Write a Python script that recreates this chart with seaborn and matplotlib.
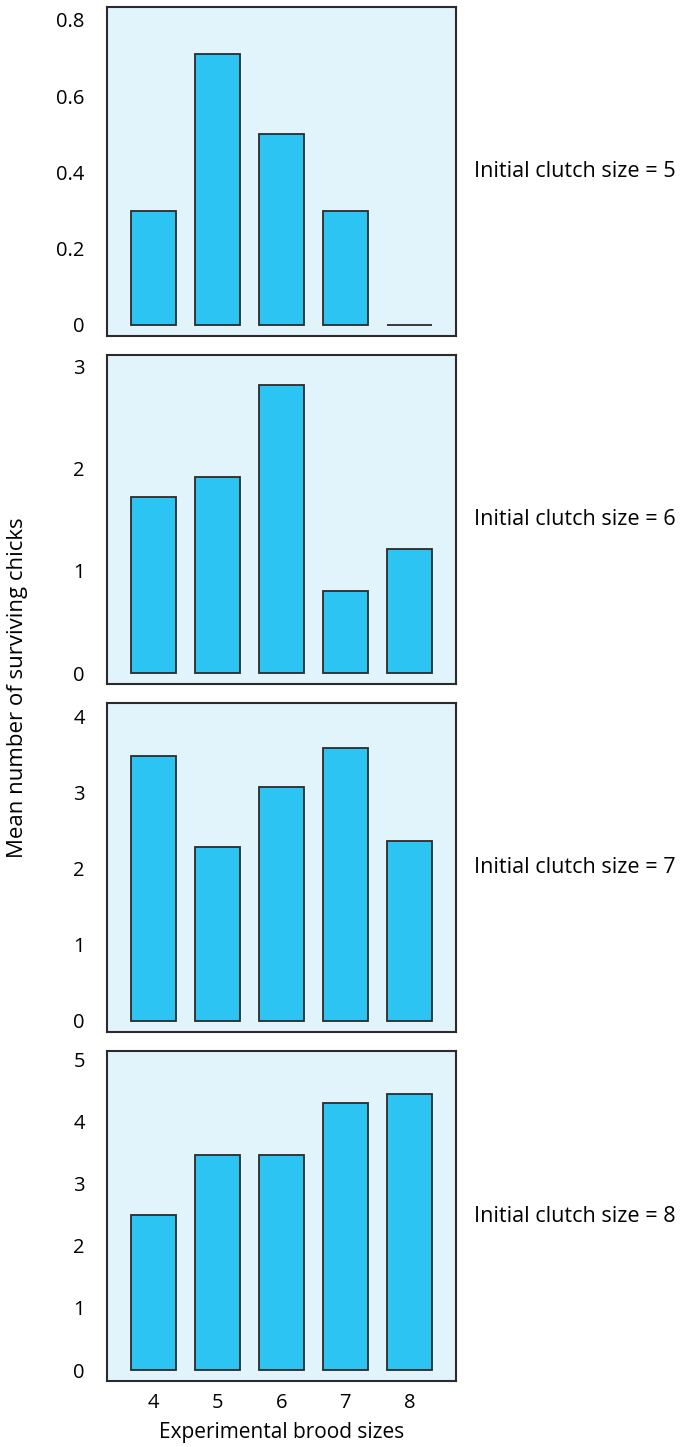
import matplotlib
matplotlib.use("Agg")
import matplotlib.pyplot as plt
import seaborn as sns
import pandas as pd

brood_sizes = ["4", "5", "6", "7", "8"]
clutch_sizes = [5, 6, 7, 8]
surv_clutch5 = [0.30, 0.71, 0.50, 0.30, 0.0]
surv_clutch6 = [1.72, 1.92, 2.82, 0.80, 1.21]
surv_clutch7 = [3.48, 2.29, 3.08, 3.59, 2.37]
surv_clutch8 = [2.49, 3.46, 3.46, 4.31, 4.45]
series = [surv_clutch5, surv_clutch6, surv_clutch7, surv_clutch8]
yticks = [[0, 0.2, 0.4, 0.6, 0.8], [0, 1, 2, 3], [0, 1, 2, 3, 4], [0, 1, 2, 3, 4, 5]]
ytick_labels = [["0", "0.2", "0.4", "0.6", "0.8"], ["0", "1", "2", "3"],
                ["0", "1", "2", "3", "4"], ["0", "1", "2", "3", "4", "5"]]
ylims = [(-0.029, 0.834), (-0.107, 3.11), (-0.145, 4.18), (-0.177, 5.14)]

sns.set_theme(style="white")
plt.rcParams["font.family"] = ["Open Sans", "DejaVu Sans"]
plt.rcParams["text.color"] = "black"
plt.rcParams["xtick.color"] = "black"
plt.rcParams["ytick.color"] = "black"

W, H = 687, 1447
fig = plt.figure(figsize=(W / 100, H / 100), dpi=100)
left, right = 107, 456
tops = [7, 355, 703, 1051]
heights = [329, 329, 329, 330]

bar_color = "#2CC4F2"
bg_color = "#E1F3FB"
edge = "#2b2b2b"
fs = 15
tfs = 14.5

for i, (vals, top, h) in enumerate(zip(series, tops, heights)):
    ax = fig.add_axes([left / W, 1 - (top + h) / H, (right - left) / W, h / H])
    df = pd.DataFrame({"brood": brood_sizes, "value": vals})
    sns.barplot(data=df, x="brood", y="value", ax=ax, color=bar_color,
                saturation=1, edgecolor=edge, linewidth=1.3, width=0.7)
    ax.set_facecolor(bg_color)
    ax.set_xlim(-0.72, 4.73)
    ax.set_ylim(*ylims[i])
    ax.set_yticks(yticks[i])
    ax.set_yticklabels(ytick_labels[i], fontsize=tfs, color="black")
    ax.tick_params(axis="y", direction="in", length=5, width=1, color=edge, pad=16)
    ax.tick_params(axis="x", length=0, pad=9, labelsize=tfs, labelcolor="black")
    for s in ax.spines.values():
        s.set_color(edge)
        s.set_linewidth(1.5)
        s.set_visible(True)
    ax.set_ylabel("")
    ax.set_xlabel("")
    if i < 3:
        ax.set_xticklabels([])
    else:
        ax.set_xlabel("Experimental brood sizes", fontsize=fs, labelpad=6, color="black")
    ax.text(1.052, 0.5, f"Initial clutch size = {clutch_sizes[i]}",
            transform=ax.transAxes, ha="left", va="center", fontsize=15.6, color="black")

fig.text(18 / W, 1 - 688 / H, "Mean number of surviving chicks", rotation=90,
         ha="center", va="center", fontsize=16, color="black")

fig.savefig("out.png", dpi=100, facecolor="white")
